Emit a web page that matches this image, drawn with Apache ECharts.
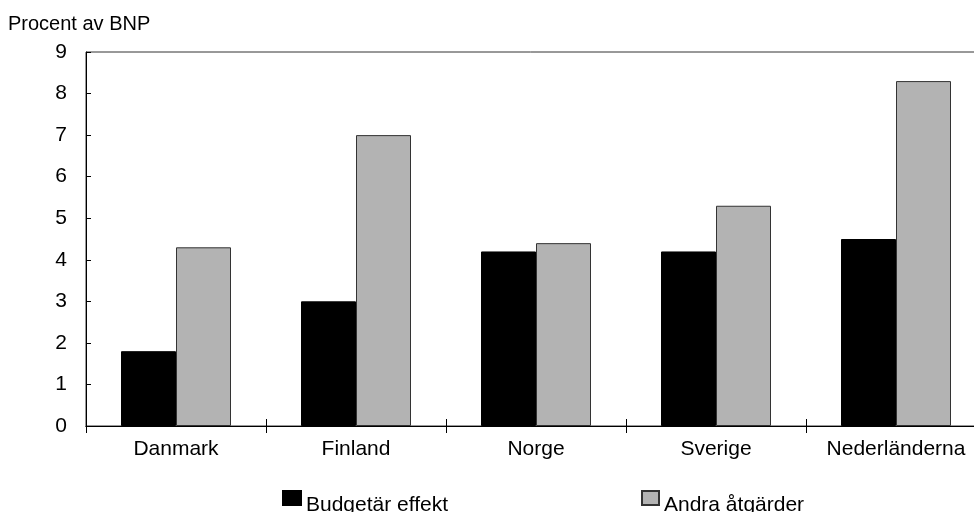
<!DOCTYPE html>
<html>
<head>
<meta charset="utf-8">
<script src="https://cdn.jsdelivr.net/npm/echarts@6/dist/echarts.min.js"></script>
<style>
  html, body { margin: 0; padding: 0; background: #fff; }
  #chartWrap { width: 974px; height: 512px; }
</style>
</head>
<body>
<div id="chartWrap"></div>
<script>
// data
const countries = ['Danmark', 'Finland', 'Norge', 'Sverige', 'Nederländerna'];
const budgetEffect = [1.8, 3.0, 4.2, 4.2, 4.5];
const otherMeasures = [4.3, 7.0, 4.4, 5.3, 8.3];
const yTicks = [0, 1, 2, 3, 4, 5, 6, 7, 8, 9];

const font = 'Liberation Sans, Arial, sans-serif';

const chart = echarts.init(document.getElementById('chartWrap'));

const xBase = {
  type: 'category',
  data: countries,
  position: 'bottom',
  axisLine: { lineStyle: { color: '#000', width: 1 } },
  axisTick: { show: true, interval: 0, length: 7, lineStyle: { color: '#000' } }
};

// legend text sits a little lower than its swatch in the reference
const legendText = {
  fontSize: 21, color: '#000', fontFamily: font,
  rich: { t: { fontSize: 21, color: '#000', fontFamily: font, padding: [14, 0, 0, 0] } }
};

chart.setOption({
  animation: false,
  textStyle: { fontFamily: font },
  title: {
    text: 'Procent av BNP',
    left: 3, top: 9,
    textStyle: { fontSize: 20, fontWeight: 'normal', color: '#000', fontFamily: font }
  },
  // plot runs a bit past the right edge of the window, like the reference
  grid: {
    left: 86, top: 52, width: 900, bottom: 86,
    outerBoundsMode: 'none',
    show: true, borderColor: '#333', borderWidth: 1
  },
  legend: [
    {
      data: ['Budgetär effekt'], left: 277, top: 485, icon: 'rect',
      itemWidth: 18, itemHeight: 14, itemGap: 6,
      formatter: '{t|{name}}',
      textStyle: legendText
    },
    {
      data: ['Andra åtgärder'], left: 636, top: 485, icon: 'rect',
      itemWidth: 17, itemHeight: 14, itemGap: 6,
      formatter: '{t|{name}}',
      textStyle: legendText
    }
  ],
  xAxis: [
    Object.assign({}, xBase, {
      axisLabel: { fontSize: 21, color: '#000', margin: 13, interval: 0, fontFamily: font }
    }),
    Object.assign({}, xBase, {
      axisTick: { show: true, interval: 0, inside: true, length: 7, lineStyle: { color: '#000' } },
      axisLabel: { show: false }
    })
  ],
  yAxis: {
    type: 'value',
    min: yTicks[0],
    max: yTicks[yTicks.length - 1],
    interval: 1,
    axisLine: { show: true, lineStyle: { color: '#000' } },
    axisTick: { show: true, inside: true, length: 5, lineStyle: { color: '#000' } },
    splitLine: { show: false },
    axisLabel: { fontSize: 21, color: '#000', margin: 19, fontFamily: font }
  },
  series: [
    {
      name: 'Budgetär effekt',
      type: 'bar',
      data: budgetEffect,
      barWidth: 55,
      barGap: '0%',
      itemStyle: { color: '#000', borderColor: '#000', borderWidth: 1 }
    },
    {
      name: 'Andra åtgärder',
      type: 'bar',
      data: otherMeasures,
      barWidth: 55,
      barGap: '0%',
      itemStyle: { color: '#b3b3b3', borderColor: '#333', borderWidth: 1 }
    }
  ]
});
</script>
</body>
</html>
